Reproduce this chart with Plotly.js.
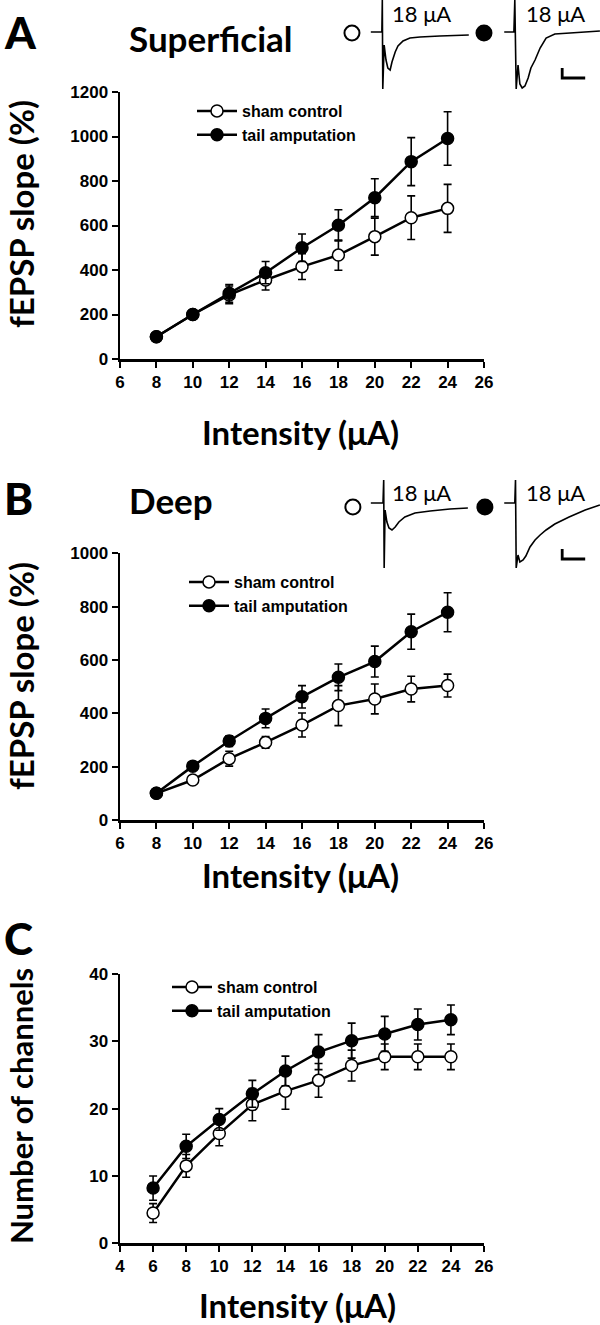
<!DOCTYPE html>
<html>
<head>
<meta charset="utf-8">
<script src="https://cdn.plot.ly/plotly-3.0.1.min.js"></script>
<style>html,body{margin:0;padding:0;background:#fff;}#chart{width:600px;height:1325px;}</style>
</head>
<body>
<div id="chart"></div>
<script>
// ---------- data: panel A (superficial) ----------
const intensityAB = [8, 10, 12, 14, 16, 18, 20, 22, 24];
const shamA      = [100, 200, 288, 355, 415, 467, 550, 635, 677];
const shamAerr   = [0, 8, 40, 45, 58, 68, 83, 98, 108];
const tailA      = [100, 200, 295, 388, 500, 601, 725, 887, 991];
const tailAerr   = [0, 8, 40, 50, 62, 70, 85, 108, 120];
// ---------- data: panel B (deep) ----------
const shamB      = [100, 150, 230, 291, 356, 429, 454, 491, 504];
const shamBerr   = [0, 12, 28, 22, 45, 75, 56, 48, 43];
const tailB      = [100, 202, 296, 381, 462, 535, 594, 706, 779];
const tailBerr   = [0, 10, 20, 35, 42, 50, 58, 66, 73];
// ---------- data: panel C (channels) ----------
const intensityC = [6, 8, 10, 12, 14, 16, 18, 20, 22, 24];
const shamC      = [4.5, 11.5, 16.3, 20.6, 22.6, 24.2, 26.4, 27.7, 27.7, 27.7];
const shamCerr   = [1.4, 1.7, 1.8, 2.4, 2.7, 2.5, 2.3, 1.9, 1.9, 1.9];
const tailC      = [8.2, 14.4, 18.4, 22.2, 25.6, 28.4, 30.1, 31.1, 32.5, 33.2];
const tailCerr   = [1.8, 1.8, 1.6, 2.0, 2.2, 2.6, 2.6, 2.6, 2.3, 2.2];
// ---------- tick labels ----------
const ticksXAB = [6, 8, 10, 12, 14, 16, 18, 20, 22, 24, 26];
const ticksXC  = [4, 6, 8, 10, 12, 14, 16, 18, 20, 22, 24, 26];
const ticksYA  = [0, 200, 400, 600, 800, 1000, 1200];
const ticksYB  = [0, 200, 400, 600, 800, 1000];
const ticksYC  = [0, 10, 20, 30, 40];
const seriesNames = ['sham control', 'tail amputation'];
// ---------- example traces at 18 µA (time ms, amplitude mV) ----------
const exA_sham_t = [6.7, 9.1, 9.2, 9.3, 9.6, 10.0, 10.4, 10.9, 11.3, 12.0, 12.6, 13.7, 15.2, 17.4, 21.7, 28.0];
const exA_sham_v = [0, 0, 3.2, -5.7, -1.3, -2.8, -3.6, -3.8, -3.0, -2.0, -1.4, -0.9, -0.6, -0.5, -0.4, -0.3];
const exA_tail_t = [35.7, 37.8, 38.0, 38.3, 38.7, 39.1, 39.6, 40.2, 40.9, 41.5, 42.4, 43.5, 44.8, 46.7, 50.0, 56.5];
const exA_tail_v = [0, 0, 3.2, -5.7, -3.3, -5.2, -5.6, -5.4, -4.6, -3.6, -2.8, -1.6, -0.6, -0.2, -0.1, 0.1];
const exB_sham_t = [6.7, 9.35, 9.5, 9.6, 9.8, 10.2, 10.65, 11.3, 12.0, 12.8, 14.1, 16.3, 19.6, 23.9, 27.8];
const exB_sham_v = [0, 0, 2.3, -6.5, -0.7, -1.9, -2.5, -2.7, -2.4, -1.9, -1.4, -1.0, -0.8, -0.6, -0.5];
const exB_tail_t = [35.7, 38.0, 38.15, 38.3, 38.7, 39.1, 39.8, 40.4, 41.3, 42.4, 43.5, 44.8, 46.7, 49.8, 53.3, 56.5];
const exB_tail_v = [0, 0, 2.3, -6.5, -5.2, -5.9, -5.7, -5.3, -4.4, -3.7, -3.2, -2.7, -2.1, -1.4, -0.7, -0.2];
const scaleBarA_t = [48.3, 48.3, 53.3];
const scaleBarA_v = [-3.6, -4.6, -4.6];
const scaleBarB_t = [48.3, 48.3, 53.3];
const scaleBarB_v = [-4.6, -5.6, -5.6];
const symbolsA_t = [2.6, 31.3];
const symbolsA_v = [-0.1, -0.1];
const symbolsB_t = [2.8, 31.5];
const symbolsB_v = [-0.4, -0.4];
const exampleLabel = '18 μA';

// ---------- helpers ----------
const W = 600, H = 1325;
const px = x => x / W;
const py = y => 1 - y / H;
const tickFont = {family: 'Liberation Sans, Arial, sans-serif', size: 17, color: '#000', weight: 700};
const legFont  = {family: 'Liberation Sans, Arial, sans-serif', size: 16, color: '#000', weight: 700};

function series(x, y, err, filled, xa, ya, leg) {
  return {
    x: x, y: y, type: 'scatter', mode: 'lines+markers',
    xaxis: xa, yaxis: ya, legend: leg,
    name: filled ? seriesNames[1] : seriesNames[0],
    line: {color: '#000', width: 2.5},
    marker: {symbol: 'circle', size: 12, color: filled ? '#000' : '#fff', line: {color: '#000', width: 1.5}},
    error_y: {type: 'data', array: err, visible: true, color: '#000', thickness: 1.6, width: 4}
  };
}
function exTrace(t, v, xa, ya, w) {
  return {x: t, y: v, type: 'scatter', mode: 'lines', xaxis: xa, yaxis: ya, showlegend: false,
          hoverinfo: 'skip', line: {color: '#000', width: w || 1.6}};
}
function exSymbols(t, v, xa, ya) {
  return {x: t, y: v, type: 'scatter', mode: 'markers', xaxis: xa, yaxis: ya, showlegend: false,
          hoverinfo: 'skip',
          marker: {symbol: 'circle', size: 15, color: ['#fff', '#000'], line: {color: '#000', width: 2}}};
}

const data = [
  series(intensityAB, shamA, shamAerr, false, 'x', 'y', 'legend'),
  series(intensityAB, tailA, tailAerr, true, 'x', 'y', 'legend'),
  series(intensityAB, shamB, shamBerr, false, 'x2', 'y2', 'legend2'),
  series(intensityAB, tailB, tailBerr, true, 'x2', 'y2', 'legend2'),
  series(intensityC, shamC, shamCerr, false, 'x3', 'y3', 'legend3'),
  series(intensityC, tailC, tailCerr, true, 'x3', 'y3', 'legend3'),
  exTrace(exA_sham_t, exA_sham_v, 'x4', 'y4'),
  exTrace(exA_tail_t, exA_tail_v, 'x4', 'y4'),
  exTrace(scaleBarA_t, scaleBarA_v, 'x4', 'y4', 2.8),
  exSymbols(symbolsA_t, symbolsA_v, 'x4', 'y4'),
  exTrace(exB_sham_t, exB_sham_v, 'x5', 'y5'),
  exTrace(exB_tail_t, exB_tail_v, 'x5', 'y5'),
  exTrace(scaleBarB_t, scaleBarB_v, 'x5', 'y5', 2.8),
  exSymbols(symbolsB_t, symbolsB_v, 'x5', 'y5')
];

function xAxis(range, ticks, dom, anchor) {
  return {domain: dom, anchor: anchor, range: range, tickvals: ticks, ticktext: ticks.map(String),
          showgrid: false, zeroline: false, showline: true, linecolor: '#000', linewidth: 2.5,
          ticks: 'outside', ticklen: 6, tickwidth: 2, tickcolor: '#000', tickfont: tickFont, fixedrange: true};
}
function yAxis(range, ticks, dom, anchor) {
  return {domain: dom, anchor: anchor, range: range, tickvals: ticks, ticktext: ticks.map(String),
          showgrid: false, zeroline: false, showline: true, linecolor: '#000', linewidth: 2.5,
          ticks: 'outside', ticklen: 6, tickwidth: 2, tickcolor: '#000', tickfont: tickFont, fixedrange: true};
}
function hidden(range, dom, anchor) {
  return {domain: dom, anchor: anchor, range: range, visible: false, showgrid: false, zeroline: false, fixedrange: true};
}

const xDom = [px(120), px(484)];
const titleFont = {family: 'Lato, sans-serif', size: 33, color: '#000', weight: 700};
const headFont  = {family: 'Lato, sans-serif', size: 35, color: '#000', weight: 700};
const letterFont = {family: 'Lato, sans-serif', size: 44, color: '#000', weight: 900};
const exFont = {family: 'Lato, sans-serif', size: 22, color: '#000'};

function ann(text, x, y, font, extra) {
  return Object.assign({text: text, x: px(x), y: py(y), xref: 'paper', yref: 'paper',
    showarrow: false, xanchor: 'center', yanchor: 'middle', font: font}, extra || {});
}
const legBase = {xanchor: 'left', yanchor: 'top', font: legFont, bgcolor: 'rgba(0,0,0,0)', borderwidth: 0, itemwidth: 40};

const layout = {
  width: W, height: H,
  margin: {l: 0, r: 0, t: 0, b: 0},
  paper_bgcolor: '#fff', plot_bgcolor: 'rgba(0,0,0,0)',
  showlegend: true,
  xaxis:  xAxis([6, 26], ticksXAB, xDom, 'y'),
  yaxis:  yAxis([0, 1200], ticksYA, [py(359), py(92)], 'x'),
  xaxis2: xAxis([6, 26], ticksXAB, xDom, 'y2'),
  yaxis2: yAxis([0, 1000], ticksYB, [py(820), py(553.3)], 'x2'),
  xaxis3: xAxis([4, 26], ticksXC, xDom, 'y3'),
  yaxis3: yAxis([0, 40], ticksYC, [py(1243.3), py(974)], 'x3'),
  xaxis4: hidden([0, 56.52], [px(340), 1], 'y4'),
  yaxis4: hidden([-6.8, 3.2], [py(100), 1], 'x4'),
  xaxis5: hidden([0, 56.52], [px(340), 1], 'y5'),
  yaxis5: hidden([-7.7, 2.3], [py(580), py(480)], 'x5'),
  legend:  Object.assign({x: px(192), y: py(94)}, legBase),
  legend2: Object.assign({x: px(184), y: py(565)}, legBase),
  legend3: Object.assign({x: px(167), y: py(970)}, legBase),
  annotations: [
    ann('A', 20, 32, letterFont),
    ann('Superficial', 127, 38, headFont, {xanchor: 'left'}),
    ann('B', 18, 498, letterFont),
    ann('Deep', 127, 500, headFont, {xanchor: 'left'}),
    ann('C', 18, 938, letterFont),
    ann(exampleLabel, 421, 13, exFont),
    ann(exampleLabel, 555, 13, exFont),
    ann(exampleLabel, 421, 493, exFont),
    ann(exampleLabel, 555, 493, exFont),
    ann('fEPSP slope (%)', 21, 214, titleFont, {textangle: -90}),
    ann('fEPSP slope (%)', 21, 676, titleFont, {textangle: -90}),
    ann('Number of channels', 21, 1106, Object.assign({}, titleFont, {size: 31}), {textangle: -90}),
    ann('Intensity (μA)', 300, 432, titleFont),
    ann('Intensity (μA)', 300, 875, titleFont),
    ann('Intensity (μA)', 297, 1305, titleFont)
  ]
};

Plotly.newPlot('chart', data, layout, {displayModeBar: false, staticPlot: true});
</script>
</body>
</html>
